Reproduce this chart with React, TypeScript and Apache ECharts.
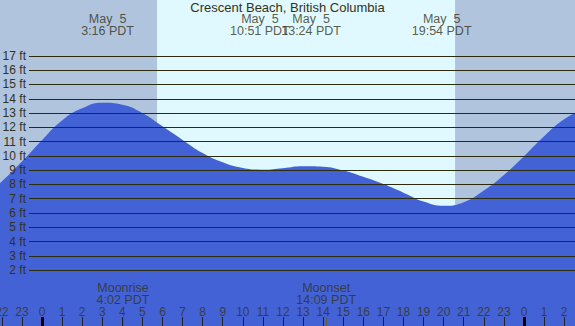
import React, { useEffect, useRef } from "react";
import * as echarts from "echarts";

// Hours since midnight May 5 (PDT) and tide heights in feet
const tideHours = [-3, -2, -1, 0, 1, 2, 3, 4, 5, 6, 7, 8, 9, 10, 11, 12, 13, 14, 15, 16, 17, 18, 19, 20, 21, 22, 23, 24, 25, 26, 27];
const tideFt = [7.0, 8.2, 9.6, 11.1, 12.48, 13.33, 13.72, 13.58, 13.0, 12.07, 11.12, 10.2, 9.55, 9.15, 9.03, 9.14, 9.27, 9.24, 8.97, 8.53, 8.02, 7.42, 6.8, 6.5, 6.75, 7.57, 8.66, 9.97, 11.37, 12.56, 13.35];

// Tide events (top labels)
const eventHours = [3.267, 10.85, 13.4, 19.9];
const eventDates = ["May  5", "May  5", "May  5", "May  5"];
const eventTimes = ["3:16 PDT", "10:51 PDT", "13:24 PDT", "19:54 PDT"];

// Moon events (bottom labels)
const moonHours = [4.033, 14.15];
const moonNames = ["Moonrise", "Moonset"];
const moonTimes = ["4:02 PDT", "14:09 PDT"];

// Sun
const sunriseHour = 5.73;
const sunsetHour = 20.57;

// Grid levels (ft) and hour ticks
const gridLevels = [2, 3, 4, 5, 6, 7, 8, 9, 10, 11, 12, 13, 14, 15, 16, 17];
const hourTicks = [-2, -1, 0, 1, 2, 3, 4, 5, 6, 7, 8, 9, 10, 11, 12, 13, 14, 15, 16, 17, 18, 19, 20, 21, 22, 23, 24, 25, 26];
const midnightHours = [0, 24];

const title = "Crescent Beach, British Columbia";

const X_MIN = -2.09;
const X_MAX = 26.54;
const Y_MIN = -1.92;
const Y_MAX = 20.92;
const PX_PER_FT = 14.27;
const ftAtPx = (py: number) => 17 - (py - 56) / PX_PER_FT;
const hourAtPx = (px: number) => (px - 42) / 20.08;

const TEXT = "#333318";
const LINE = "#2b2b0e";
const FONT = "Liberation Sans, Arial, sans-serif";
const DAY = "#e0f8ff";
const NIGHT = "#b0c4de";
const WATER = "#4262d6";

export default function App() {
  const ref = useRef<HTMLDivElement>(null);
  useEffect(() => {
    document.body.style.margin = "0";
    const chart = echarts.init(ref.current!, undefined, { renderer: "svg" });
    const lineStart = hourAtPx(29);
    const tickTop = ftAtPx(317);
    const option: any = {
      animation: false,
      backgroundColor: DAY,
      title: {
        text: title,
        left: "center",
        top: 1,
        padding: 0,
        textStyle: { fontSize: 13, fontWeight: "normal", color: TEXT, fontFamily: FONT },
      },
      grid: { left: 0, right: 0, top: 0, bottom: 0 },
      xAxis: { type: "value", min: X_MIN, max: X_MAX, show: false },
      yAxis: { type: "value", min: Y_MIN, max: Y_MAX, show: false },
      series: [
        {
          type: "line",
          data: [],
          z: 1,
          silent: true,
          markArea: {
            silent: true,
            itemStyle: { color: NIGHT, opacity: 1 },
            data: [
              [{ coord: [X_MIN, Y_MIN] }, { coord: [sunriseHour, Y_MAX] }],
              [{ coord: [sunsetHour, Y_MIN] }, { coord: [X_MAX, Y_MAX] }],
            ],
          },
        },
        {
          type: "line",
          z: 2,
          silent: true,
          data: tideHours.map((h, i) => [h, tideFt[i]]),
          smooth: 0.5,
          showSymbol: false,
          symbol: "none",
          lineStyle: { width: 0 },
          areaStyle: { color: WATER, opacity: 1, origin: "start" },
        },
        {
          type: "line",
          data: [],
          z: 3,
          silent: true,
          markLine: {
            silent: true,
            symbol: ["none", "none"],
            animation: false,
            data: [
              ...gridLevels.map((lvl) => [
                {
                  coord: [lineStart, lvl],
                  lineStyle: { color: LINE, width: 1, type: "solid" },
                  label: {
                    show: true,
                    position: "start",
                    distance: 3,
                    formatter: `${lvl} ft`,
                    color: TEXT,
                    fontSize: 12,
                    fontFamily: FONT,
                  },
                },
                { coord: [X_MAX, lvl] },
              ]),
              ...hourTicks.map((h) => [
                { coord: [h, Y_MIN], lineStyle: { color: "#222", width: 1, type: "solid" }, label: { show: false } },
                { coord: [h, tickTop] },
              ]),
              ...midnightHours.map((h) => [
                { coord: [h, Y_MIN], lineStyle: { color: "#000", width: 3, type: "solid" }, label: { show: false } },
                { coord: [h, tickTop] },
              ]),
              ...moonHours.map((h) => [
                { coord: [h, Y_MIN], lineStyle: { color: "#6e5a2a", width: 1, type: "solid" }, label: { show: false } },
                { coord: [h, tickTop] },
              ]),
            ],
          },
        },
        {
          type: "scatter",
          z: 4,
          silent: true,
          symbolSize: 1,
          itemStyle: { color: "rgba(0,0,0,0)" },
          data: eventHours.map((h, i) => ({
            value: [h, ftAtPx(25.5)],
            label: {
              show: true,
              position: "inside",
              formatter: `${eventDates[i]}\n${eventTimes[i]}`,
              color: TEXT,
              fontSize: 12.5,
              lineHeight: 12,
              fontFamily: FONT,
              align: "center",
            },
          })),
        },
        {
          type: "scatter",
          z: 4,
          silent: true,
          symbolSize: 1,
          itemStyle: { color: "rgba(0,0,0,0)" },
          data: moonHours.map((h, i) => ({
            value: [h, ftAtPx(293.5)],
            label: {
              show: true,
              position: "inside",
              formatter: `${moonNames[i]}\n${moonTimes[i]}`,
              color: TEXT,
              fontSize: 12.5,
              lineHeight: 12,
              fontFamily: FONT,
              align: "center",
            },
          })),
        },
        {
          type: "scatter",
          z: 4,
          silent: true,
          symbolSize: 1,
          itemStyle: { color: "rgba(0,0,0,0)" },
          data: hourTicks.map((h) => ({
            value: [h, ftAtPx(311.5)],
            label: {
              show: true,
              position: "inside",
              formatter: String(((h % 24) + 24) % 24),
              color: TEXT,
              fontSize: 12,
              fontFamily: FONT,
              align: "center",
            },
          })),
        },
      ],
    };
    chart.setOption(option);
    return () => chart.dispose();
  }, []);
  return <div ref={ref} style={{ width: 575, height: 326 }} />;
}
